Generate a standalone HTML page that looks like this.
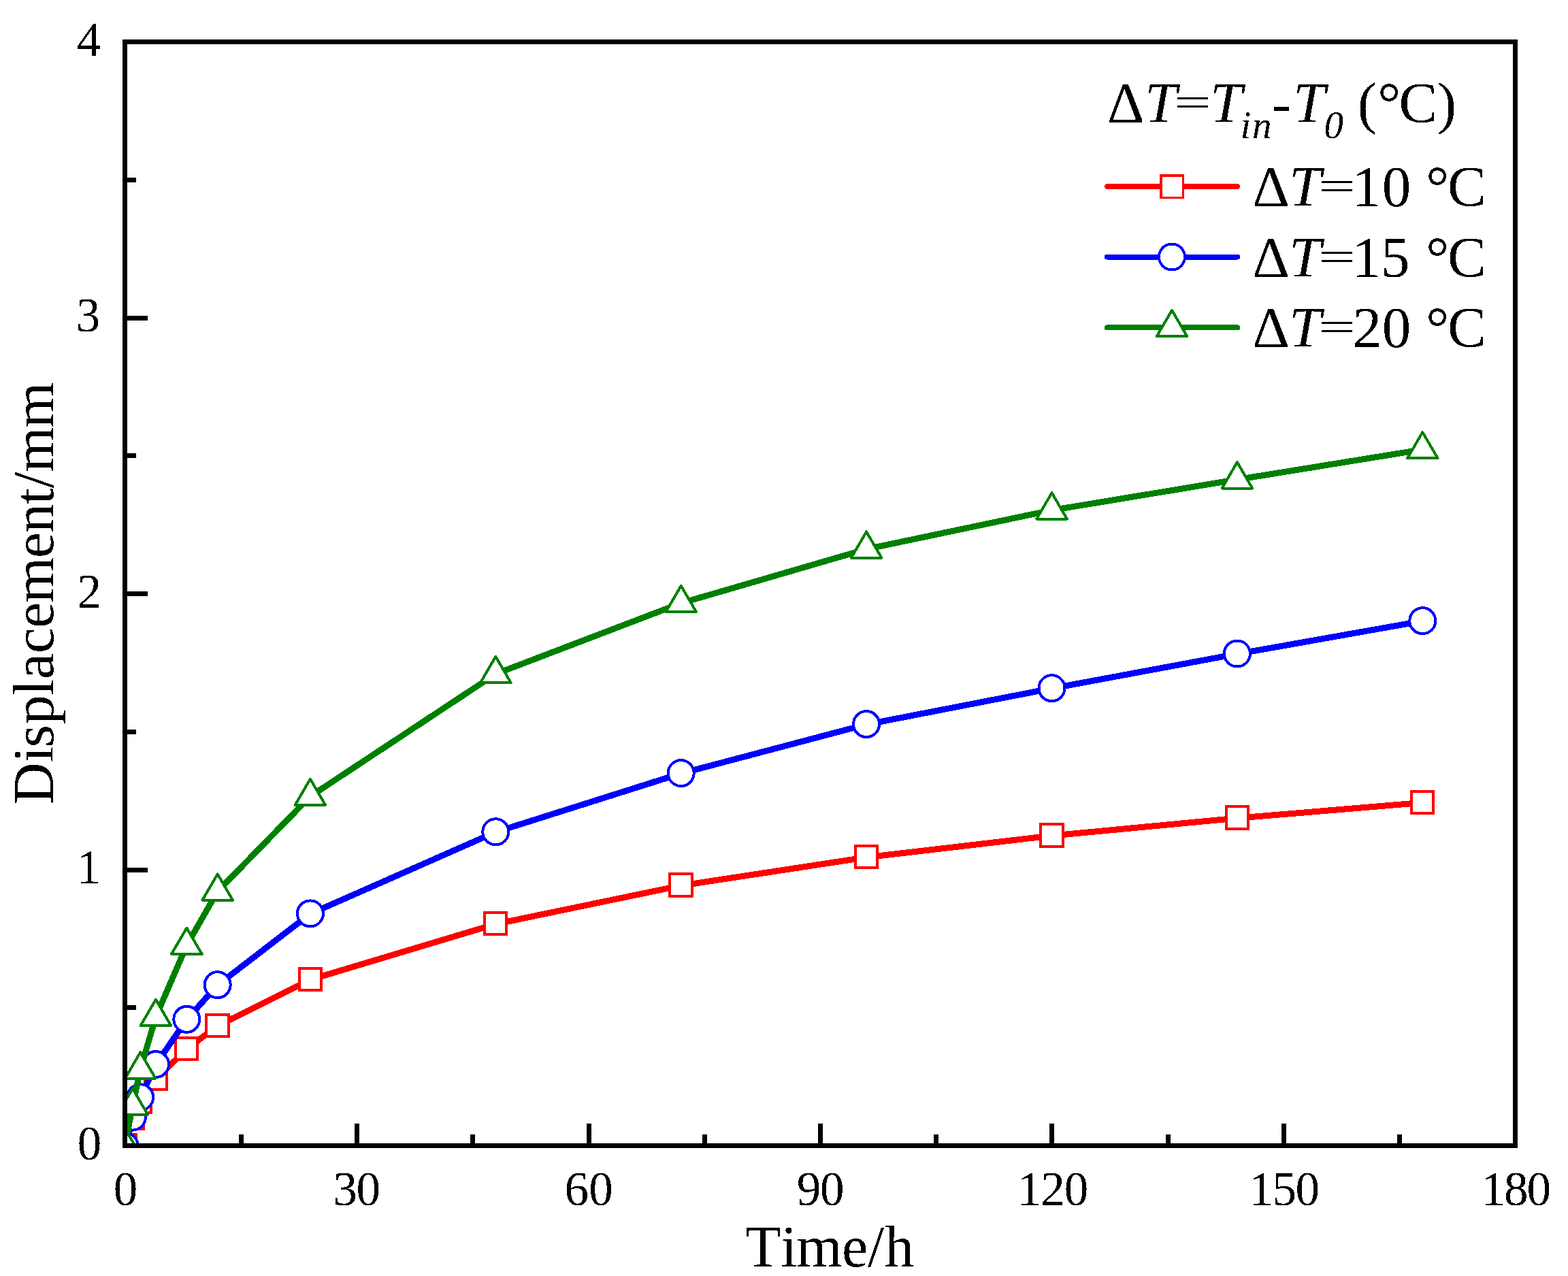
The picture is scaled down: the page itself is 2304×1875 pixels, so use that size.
<!DOCTYPE html>
<html lang="en">
<head>
<meta charset="utf-8">
<title>Displacement vs Time</title>
<style>
html,body{margin:0;padding:0;background:#fff;}
body{width:2304px;height:1875px;overflow:hidden;}
svg{display:block;}
text{font-family:"Liberation Serif","DejaVu Serif",serif;fill:#000;white-space:pre;}
.tk{font-size:71px;}
.ti{font-size:85px;}
.lg{font-size:85px;}
.sub{font-size:57px;font-style:italic;}
.it{font-style:italic;}
</style>
</head>
<body>
<svg width="2304" height="1875" viewBox="0 0 2304 1875">
<rect x="0" y="0" width="2304" height="1875" fill="#fff"/>
<defs><clipPath id="plot"><rect x="187" y="65" width="2036" height="1615"/></clipPath>
<filter id="crisp" filterUnits="userSpaceOnUse" x="0" y="0" width="2304" height="1875" color-interpolation-filters="sRGB"><feComponentTransfer><feFuncA type="discrete" tableValues="0 1"/></feComponentTransfer></filter></defs>
<g clip-path="url(#plot)" shape-rendering="crispEdges">
<polyline points="183.50,1684.20 194.85,1643.50 206.20,1619.70 228.90,1585.70 274.30,1541.60 319.70,1507.40 455.90,1439.60 728.30,1357.80 1000.70,1301.30 1273.10,1259.80 1545.50,1228.00 1817.90,1202.20 2090.30,1179.40" fill="none" stroke="#ff0000" stroke-width="9" stroke-linejoin="round" stroke-linecap="round"/>
<rect x="167.10" y="1667.30" width="32.4" height="32.4" fill="#fff" stroke="#ff0000" stroke-width="4"/>
<rect x="178.45" y="1626.60" width="32.4" height="32.4" fill="#fff" stroke="#ff0000" stroke-width="4"/>
<rect x="189.80" y="1602.80" width="32.4" height="32.4" fill="#fff" stroke="#ff0000" stroke-width="4"/>
<rect x="212.50" y="1568.80" width="32.4" height="32.4" fill="#fff" stroke="#ff0000" stroke-width="4"/>
<rect x="257.90" y="1524.70" width="32.4" height="32.4" fill="#fff" stroke="#ff0000" stroke-width="4"/>
<rect x="303.30" y="1490.50" width="32.4" height="32.4" fill="#fff" stroke="#ff0000" stroke-width="4"/>
<rect x="439.50" y="1422.70" width="32.4" height="32.4" fill="#fff" stroke="#ff0000" stroke-width="4"/>
<rect x="711.90" y="1340.90" width="32.4" height="32.4" fill="#fff" stroke="#ff0000" stroke-width="4"/>
<rect x="984.30" y="1284.40" width="32.4" height="32.4" fill="#fff" stroke="#ff0000" stroke-width="4"/>
<rect x="1256.70" y="1242.90" width="32.4" height="32.4" fill="#fff" stroke="#ff0000" stroke-width="4"/>
<rect x="1529.10" y="1211.10" width="32.4" height="32.4" fill="#fff" stroke="#ff0000" stroke-width="4"/>
<rect x="1801.50" y="1185.30" width="32.4" height="32.4" fill="#fff" stroke="#ff0000" stroke-width="4"/>
<rect x="2073.90" y="1162.50" width="32.4" height="32.4" fill="#fff" stroke="#ff0000" stroke-width="4"/>
<polyline points="183.50,1683.90 194.85,1642.00 206.20,1612.70 228.90,1564.40 274.30,1498.20 319.70,1447.60 455.90,1342.80 728.30,1222.70 1000.70,1136.50 1273.10,1064.50 1545.50,1011.60 1817.90,960.90 2090.30,912.60" fill="none" stroke="#0000ff" stroke-width="9" stroke-linejoin="round" stroke-linecap="round"/>
<circle cx="183.50" cy="1683.50" r="19" fill="#fff" stroke="#0000ff" stroke-width="4"/>
<circle cx="194.85" cy="1641.60" r="19" fill="#fff" stroke="#0000ff" stroke-width="4"/>
<circle cx="206.20" cy="1612.30" r="19" fill="#fff" stroke="#0000ff" stroke-width="4"/>
<circle cx="228.90" cy="1564.00" r="19" fill="#fff" stroke="#0000ff" stroke-width="4"/>
<circle cx="274.30" cy="1497.80" r="19" fill="#fff" stroke="#0000ff" stroke-width="4"/>
<circle cx="319.70" cy="1447.20" r="19" fill="#fff" stroke="#0000ff" stroke-width="4"/>
<circle cx="455.90" cy="1342.40" r="19" fill="#fff" stroke="#0000ff" stroke-width="4"/>
<circle cx="728.30" cy="1222.30" r="19" fill="#fff" stroke="#0000ff" stroke-width="4"/>
<circle cx="1000.70" cy="1136.10" r="19" fill="#fff" stroke="#0000ff" stroke-width="4"/>
<circle cx="1273.10" cy="1064.10" r="19" fill="#fff" stroke="#0000ff" stroke-width="4"/>
<circle cx="1545.50" cy="1011.20" r="19" fill="#fff" stroke="#0000ff" stroke-width="4"/>
<circle cx="1817.90" cy="960.50" r="19" fill="#fff" stroke="#0000ff" stroke-width="4"/>
<circle cx="2090.30" cy="912.20" r="19" fill="#fff" stroke="#0000ff" stroke-width="4"/>
<polyline points="183.50,1683.50 194.85,1625.10 206.20,1571.80 228.90,1494.30 274.30,1389.10 319.70,1309.90 455.90,1170.20 728.30,990.30 1000.70,886.30 1273.10,806.90 1545.50,749.70 1817.90,704.70 2090.30,660.60" fill="none" stroke="#008000" stroke-width="9" stroke-linejoin="round" stroke-linecap="round"/>
<path d="M183.50 1658.00L205.80 1696.30L161.20 1696.30Z" fill="#fff" stroke="#008000" stroke-width="4" stroke-linejoin="round"/>
<path d="M194.85 1599.60L217.15 1637.90L172.55 1637.90Z" fill="#fff" stroke="#008000" stroke-width="4" stroke-linejoin="round"/>
<path d="M206.20 1546.30L228.50 1584.60L183.90 1584.60Z" fill="#fff" stroke="#008000" stroke-width="4" stroke-linejoin="round"/>
<path d="M228.90 1468.80L251.20 1507.10L206.60 1507.10Z" fill="#fff" stroke="#008000" stroke-width="4" stroke-linejoin="round"/>
<path d="M274.30 1363.60L296.60 1401.90L252.00 1401.90Z" fill="#fff" stroke="#008000" stroke-width="4" stroke-linejoin="round"/>
<path d="M319.70 1284.40L342.00 1322.70L297.40 1322.70Z" fill="#fff" stroke="#008000" stroke-width="4" stroke-linejoin="round"/>
<path d="M455.90 1144.70L478.20 1183.00L433.60 1183.00Z" fill="#fff" stroke="#008000" stroke-width="4" stroke-linejoin="round"/>
<path d="M728.30 964.80L750.60 1003.10L706.00 1003.10Z" fill="#fff" stroke="#008000" stroke-width="4" stroke-linejoin="round"/>
<path d="M1000.70 860.80L1023.00 899.10L978.40 899.10Z" fill="#fff" stroke="#008000" stroke-width="4" stroke-linejoin="round"/>
<path d="M1273.10 781.40L1295.40 819.70L1250.80 819.70Z" fill="#fff" stroke="#008000" stroke-width="4" stroke-linejoin="round"/>
<path d="M1545.50 724.20L1567.80 762.50L1523.20 762.50Z" fill="#fff" stroke="#008000" stroke-width="4" stroke-linejoin="round"/>
<path d="M1817.90 679.20L1840.20 717.50L1795.60 717.50Z" fill="#fff" stroke="#008000" stroke-width="4" stroke-linejoin="round"/>
<path d="M2090.30 635.10L2112.60 673.40L2068.00 673.40Z" fill="#fff" stroke="#008000" stroke-width="4" stroke-linejoin="round"/>
</g>
<g fill="#000" shape-rendering="crispEdges">
<rect x="180" y="58" width="2050" height="7"/>
<rect x="180" y="1680" width="2050" height="7"/>
<rect x="180" y="58" width="7" height="1629"/>
<rect x="2223" y="58" width="7" height="1629"/>
<rect x="351" y="1667" width="7" height="13"/>
<rect x="521" y="1651" width="7" height="29"/>
<rect x="691" y="1667" width="7" height="13"/>
<rect x="862" y="1651" width="7" height="29"/>
<rect x="1032" y="1667" width="7" height="13"/>
<rect x="1202" y="1651" width="7" height="29"/>
<rect x="1372" y="1667" width="7" height="13"/>
<rect x="1542" y="1651" width="7" height="29"/>
<rect x="1713" y="1667" width="7" height="13"/>
<rect x="1883" y="1651" width="7" height="29"/>
<rect x="2053" y="1667" width="7" height="13"/>
<rect x="187" y="1477" width="13" height="7"/>
<rect x="187" y="1275" width="30" height="7"/>
<rect x="187" y="1072" width="13" height="7"/>
<rect x="187" y="869" width="30" height="7"/>
<rect x="187" y="666" width="13" height="7"/>
<rect x="187" y="464" width="30" height="7"/>
<rect x="187" y="261" width="13" height="7"/>
</g>
<g filter="url(#crisp)">
<g class="tk">
<text x="166.7" y="1771.2">0</text>
<text x="489.5 523.4" y="1771.2">30</text>
<text x="829.6 865.3" y="1771.2">60</text>
<text x="1170.7 1205.0" y="1771.2">90</text>
<text x="1494.9 1529.3 1563.7" y="1771.2">120</text>
<text x="1835.5 1869.5 1903.6" y="1771.2">150</text>
<text x="2176.6 2210.0 2243.4" y="1771.2">180</text>
<text x="113.8" y="1703.5">0</text>
<text x="112.8" y="1298.0">1</text>
<text x="113.5" y="892.5">2</text>
<text x="111.8" y="487.0">3</text>
<text x="113.1" y="81.5">4</text>
</g>
<text class="ti" x="1094.9 1147.4 1170.5 1237.1 1275.1 1299.8" y="1861" style="font-size:86.5px">Time/h</text>
<text class="ti" transform="translate(78,1181.1) rotate(-90)" x="-0.9 60.8 82.7 116.9 159.1 183.0 221.0 258.2 295.6 360.9 398.0 439.9 463.8 487.3 552.8" y="0" style="font-size:85.5px">Displacement/mm</text>
<g class="lg">
<text y="180"><tspan x="1627.1">Δ</tspan><tspan class="it" x="1682.1">T</tspan><tspan x="1725.5" dy="-8.9" style="font-size:62.0px" textLength="54.4" lengthAdjust="spacingAndGlyphs">=</tspan><tspan class="it" x="1778.1" dy="8.9">T</tspan><tspan class="sub" x="1822.6 1840.0" dy="22.6">in</tspan><tspan x="1868.8" dy="-22.6">-</tspan><tspan class="it" x="1900.0">T</tspan><tspan class="sub" x="1945.6" dy="22.6">0</tspan><tspan x="1974.1" dy="-22.6"> </tspan><tspan x="1994.8">(</tspan><tspan x="2024.2">°</tspan><tspan x="2055.5">C</tspan><tspan x="2111.8">)</tspan></text>
<g shape-rendering="crispEdges"><line x1="1627" y1="274.0" x2="1818" y2="274.0" stroke="#ff0000" stroke-width="8" stroke-linecap="round"/>
<rect x="1705.75" y="257.75" width="32.5" height="32.5" fill="#fff" stroke="#ff0000" stroke-width="3.5"/></g>
<text y="303.0"><tspan x="1840.2">Δ</tspan><tspan class="it" x="1894.0">T</tspan><tspan x="1937.0" dy="-8.9" style="font-size:62.0px" textLength="55.0" lengthAdjust="spacingAndGlyphs">=</tspan><tspan x="1986.7 2030.8" dy="8.9">10</tspan><tspan x="2074.1"> </tspan><tspan x="2095.3">°</tspan><tspan x="2127.0">C</tspan></text>
<g shape-rendering="crispEdges"><line x1="1627" y1="377.5" x2="1818" y2="377.5" stroke="#0000ff" stroke-width="8" stroke-linecap="round"/>
<circle cx="1722.00" cy="377.50" r="19" fill="#fff" stroke="#0000ff" stroke-width="4"/></g>
<text y="407.0"><tspan x="1840.2">Δ</tspan><tspan class="it" x="1894.0">T</tspan><tspan x="1937.0" dy="-8.9" style="font-size:62.0px" textLength="55.0" lengthAdjust="spacingAndGlyphs">=</tspan><tspan x="1986.7 2029.0" dy="8.9">15</tspan><tspan x="2074.1"> </tspan><tspan x="2095.3">°</tspan><tspan x="2127.0">C</tspan></text>
<g shape-rendering="crispEdges"><line x1="1627" y1="481.4" x2="1818" y2="481.4" stroke="#008000" stroke-width="8" stroke-linecap="round"/>
<path d="M1722.00 455.90L1744.30 494.20L1699.70 494.20Z" fill="#fff" stroke="#008000" stroke-width="4" stroke-linejoin="round"/></g>
<text y="510.0"><tspan x="1840.2">Δ</tspan><tspan class="it" x="1894.0">T</tspan><tspan x="1937.0" dy="-8.9" style="font-size:62.0px" textLength="55.0" lengthAdjust="spacingAndGlyphs">=</tspan><tspan x="1987.8 2030.8" dy="8.9">20</tspan><tspan x="2074.1"> </tspan><tspan x="2095.3">°</tspan><tspan x="2127.0">C</tspan></text>
</g>
</g>
</svg>
</body>
</html>
